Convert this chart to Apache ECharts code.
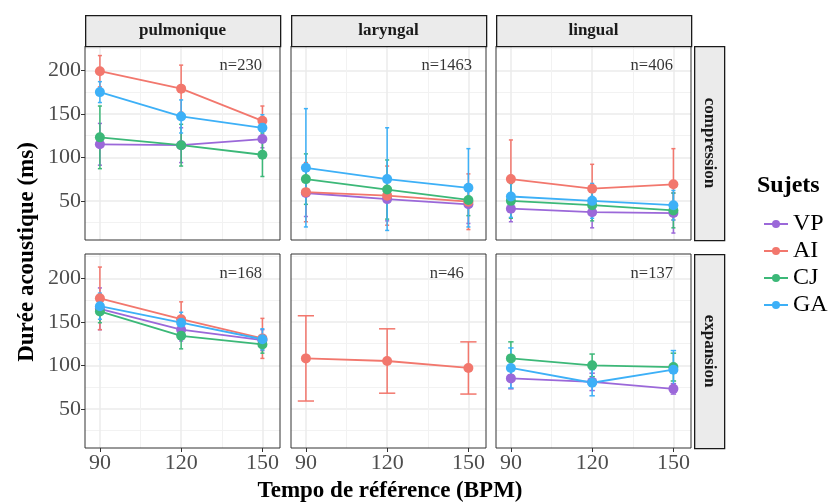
<!DOCTYPE html>
<html>
<head>
<meta charset="utf-8">
<script src="https://cdn.jsdelivr.net/npm/echarts@6/dist/echarts.min.js"></script>
<style>html,body{margin:0;padding:0;background:#fff}#c{width:831px;height:504px}</style>
</head>
<body>
<div id="c"></div>
<script>
// ---------- data ----------
const tempos = [90, 120, 150];
const subjects = ['VP', 'AI', 'CJ', 'GA'];
const places = ['pulmonique', 'laryngal', 'lingual'];
const phases = ['compression', 'expansion'];
const yTicks = [50, 100, 150, 200];
const yMinorTicks = [25, 75, 125, 175, 225];
const xMinorTicks = [105, 135];
// panel order: compression-pulmonique, compression-laryngal, compression-lingual, expansion-pulmonique, expansion-laryngal, expansion-lingual
const nCounts = [230, 1463, 406, 168, 46, 137];
const VP_mean = [[115, 114, 121], [59, 52, 46], [41, 37, 36], [165, 141, 129], null, [85, 81, 73]];
const VP_err  = [[24, 20, 10], [27, 25, 22], [15, 18, 23], [24, 13, 12], null, [12, 10, 6]];
const AI_mean = [[199, 179, 142], [60, 56, 49], [75, 64, 69], [177, 153, 131], [108, 105, 97], null];
const AI_err  = [[18, 27, 17], [34, 34, 32], [45, 28, 41], [36, 20, 23], [49, 37, 30], null];
const CJ_mean = [[123, 114, 103], [75, 63, 51], [50, 45, 39], [162, 134, 124], null, [108, 100, 98]];
const CJ_err  = [[36, 24, 25], [29, 34, 18], [20, 18, 20], [13, 15, 10], null, [19, 13, 16]];
const GA_mean = [[175, 147, 134], [88, 75, 65], [55, 50, 45], [168, 149, 130], null, [97, 80, 95]];
const GA_err  = [[12, 19, 15], [68, 59, 45], [24, 20, 17], [15, 12, 12], null, [23, 15, 22]];

// ---------- styling / layout ----------
const means = {VP: VP_mean, AI: AI_mean, CJ: CJ_mean, GA: GA_mean};
const errs = {VP: VP_err, AI: AI_err, CJ: CJ_err, GA: GA_err};
const colors = {VP: '#9B68D9', AI: '#F2776D', CJ: '#3CB878', GA: '#3DB0F7'};
const FONT = '"Liberation Serif", "DejaVu Serif", serif';
const colLeft = [85, 291, 496], panelW = 195;
const rowTop = [46, 254], panelH = 194;
const X_MIN = 84.5, X_MAX = 156.5, Y_MIN = 5, Y_MAX = 228;
const ERR_TOTAL_W = 6;

const grids = [], xAxes = [], yAxes = [], series = [];
for (let r = 0; r < 2; r++) {
  for (let c = 0; c < 3; c++) {
    grids.push({left: colLeft[c], top: rowTop[r], width: panelW, height: panelH,
      show: true, borderColor: '#333333', borderWidth: 1, backgroundColor: 'transparent', z: 3});
  }
}
// main axes 0..5
for (let gi = 0; gi < 6; gi++) {
  const r = Math.floor(gi / 3), c = gi % 3;
  xAxes.push({type: 'value', gridIndex: gi, min: X_MIN, max: X_MAX,
    axisLine: {show: false},
    axisTick: {show: r === 1, customValues: tempos, length: 4, lineStyle: {color: '#333', width: 1}},
    axisLabel: {show: r === 1, customValues: tempos, color: '#4D4D4D', fontSize: 22, fontFamily: FONT, margin: 4},
    splitLine: {show: true, lineStyle: {color: '#EBEBEB', width: 1.5}}});
  yAxes.push({type: 'value', gridIndex: gi, min: Y_MIN, max: Y_MAX,
    axisLine: {show: false},
    axisTick: {show: c === 0, customValues: yTicks, length: 4, lineStyle: {color: '#333', width: 1}},
    axisLabel: {show: c === 0, customValues: yTicks, color: '#4D4D4D', fontSize: 22, fontFamily: FONT, margin: 4},
    splitLine: {show: true, lineStyle: {color: '#EBEBEB', width: 1.5}}});
}
// minor grid axes 6..11
for (let gi = 0; gi < 6; gi++) {
  xAxes.push({type: 'value', gridIndex: gi, min: X_MIN, max: X_MAX,
    axisLine: {show: false}, axisTick: {show: false, customValues: xMinorTicks}, axisLabel: {show: false},
    splitLine: {show: true, lineStyle: {color: '#F2F2F2', width: 1}}});
  yAxes.push({type: 'value', gridIndex: gi, min: Y_MIN, max: Y_MAX,
    axisLine: {show: false}, axisTick: {show: false, customValues: yMinorTicks}, axisLabel: {show: false},
    splitLine: {show: true, lineStyle: {color: '#F2F2F2', width: 1}}});
}

function renderErr(params, api) {
  const x = api.value(0), lo = api.value(1), hi = api.value(2), w = api.value(3);
  const p1 = api.coord([x, hi]), p2 = api.coord([x, lo]);
  const half = api.size([w, 0])[0] / 2;
  const style = {stroke: api.visual('color'), lineWidth: 1.5};
  return {type: 'group', children: [
    {type: 'line', shape: {x1: p1[0], y1: p1[1], x2: p2[0], y2: p2[1]}, style: style},
    {type: 'line', shape: {x1: p1[0] - half, y1: p1[1], x2: p1[0] + half, y2: p1[1]}, style: style},
    {type: 'line', shape: {x1: p2[0] - half, y1: p2[1], x2: p2[0] + half, y2: p2[1]}, style: style}
  ]};
}

for (let gi = 0; gi < 6; gi++) {
  const present = subjects.filter(s => means[s][gi]);
  const capW = ERR_TOTAL_W / present.length;
  subjects.forEach(s => {
    const m = means[s][gi];
    if (!m) return;
    const e = errs[s][gi];
    series.push({type: 'custom', name: s + '-err', xAxisIndex: gi, yAxisIndex: gi,
      renderItem: renderErr, itemStyle: {color: colors[s]}, silent: true, z: 4,
      encode: {x: 0, y: [1, 2]},
      data: tempos.map((t, i) => [t, m[i] - e[i], m[i] + e[i], capW])});
    series.push({type: 'line', name: s, xAxisIndex: gi, yAxisIndex: gi,
      symbol: 'circle', symbolSize: 10, showSymbol: true, z: 4,
      lineStyle: {color: colors[s], width: 1.8}, itemStyle: {color: colors[s]},
      data: tempos.map((t, i) => [t, m[i]])});
  });
  series.push({type: 'scatter', name: 'n', xAxisIndex: gi, yAxisIndex: gi, symbolSize: 0, silent: true, z: 5,
    label: {show: true, position: 'inside', formatter: 'n=' + nCounts[gi], color: '#000', fontSize: 16.5, fontFamily: FONT},
    data: [[142, 205]]});
}

// strips and titles
const graphic = [];
for (let c = 0; c < 3; c++) {
  graphic.push({type: 'rect', left: colLeft[c], top: 15, shape: {width: panelW, height: 31},
    style: {fill: '#EBEBEB', stroke: '#1A1A1A', lineWidth: 1.3}, z: 10});
  graphic.push({type: 'text', x: colLeft[c] + panelW / 2, y: 30.5, z: 11,
    style: {text: places[c], fill: '#1A1A1A', font: 'bold 17px ' + FONT, align: 'center', verticalAlign: 'middle'}});
}
for (let r = 0; r < 2; r++) {
  graphic.push({type: 'rect', left: 694, top: rowTop[r], shape: {width: 30, height: panelH},
    style: {fill: '#EBEBEB', stroke: '#1A1A1A', lineWidth: 1.3}, z: 10});
  graphic.push({type: 'text', x: 709, y: rowTop[r] + panelH / 2, rotation: -Math.PI / 2, z: 11,
    style: {text: phases[r], fill: '#1A1A1A', font: 'bold 17px ' + FONT, align: 'center', verticalAlign: 'middle'}});
}
graphic.push({type: 'text', x: 27, y: 252, rotation: Math.PI / 2, z: 11,
  style: {text: 'Durée acoustique (ms)', fill: '#000', font: 'bold 23px ' + FONT, align: 'center', verticalAlign: 'middle'}});
graphic.push({type: 'text', x: 390, y: 491, z: 11,
  style: {text: 'Tempo de référence (BPM)', fill: '#000', font: 'bold 23px ' + FONT, align: 'center', verticalAlign: 'middle'}});
graphic.push({type: 'text', x: 757, y: 186, z: 11,
  style: {text: 'Sujets', fill: '#000', font: 'bold 24px ' + FONT, align: 'left', verticalAlign: 'middle'}});

const chart = echarts.init(document.getElementById('c'), null, {renderer: 'canvas'});
chart.setOption({
  animation: false,
  backgroundColor: '#fff',
  grid: grids,
  xAxis: xAxes,
  yAxis: yAxes,
  legend: {data: subjects, orient: 'vertical', left: 758, top: 207, itemWidth: 24, itemHeight: 10, itemGap: 3,
    textStyle: {color: '#000', fontSize: 24, fontFamily: FONT}, selectedMode: false},
  graphic: graphic,
  series: series
});
</script>
</body>
</html>
